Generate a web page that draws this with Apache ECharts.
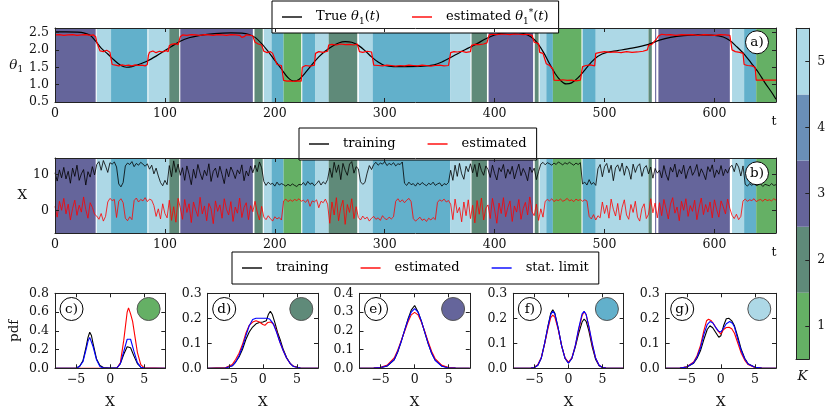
<!DOCTYPE html>
<html><head><meta charset="utf-8">
<script src="https://cdn.jsdelivr.net/npm/echarts/dist/echarts.min.js"></script>
<style>html,body{margin:0;padding:0;background:#fff}#c{width:831px;height:416px}</style>
</head><body><div id="c"></div>
<script>
const FONT = 'DejaVu Serif';
// ---- data ----
const tTicks = [0,100,200,300,400,500,600];
const thetaTicks = [0.5,1.0,1.5,2.0,2.5];
const xbTicks = [0,10];
const pdfXTicks = [-5,0,5];
const kLevels = [1,2,3,4,5];
// background regimes: [start t, end t, K]
const segments = [
 [0,37,3],[38,51,5],[51,84,4],[85,104,5],[104,113,2],[114,180,3],[181.5,189,2],[190,197,5],[197,208,4],[208,224,1],[225,237,4],[237,249,5],[249,275,2],[276.5,289,5],[289,359.5,4],[359.5,378,5],[379,393,2],[394.5,435,3],[436.5,440,2],[441,447,5],[447,453,4],[453,479,1],[480,492,4],[492,540,5],[540,543,2],[546,547,3],[549,614,3],[616,627,5],[627,638,4],[638,656,1]
];
const thetaTrue = [[0,2.52],[10,2.52],[20,2.51],[26,2.49],[32,2.42],[37,2.25],[42,2.05],[48,1.88],[54,1.70],[60,1.55],[65,1.50],[70,1.52],[76,1.58],[84,1.68],[92,1.82],[100,1.98],[106,2.10],[114,2.25],[122,2.35],[132,2.42],[145,2.47],[160,2.49],[170,2.48],[176,2.45],[182,2.36],[188,2.18],[194,1.95],[200,1.70],[206,1.45],[212,1.20],[217,1.10],[222,1.15],[228,1.35],[234,1.58],[240,1.80],[246,1.97],[252,2.10],[258,2.20],[264,2.24],[270,2.22],[276,2.13],[282,1.98],[288,1.80],[294,1.65],[300,1.55],[308,1.52],[320,1.52],[335,1.53],[345,1.57],[352,1.65],[360,1.78],[368,1.92],[376,2.05],[384,2.18],[392,2.32],[400,2.43],[408,2.49],[415,2.51],[422,2.50],[430,2.43],[436,2.30],[440,2.15],[445,1.90],[450,1.60],[455,1.32],[460,1.12],[465,1.02],[470,1.05],[476,1.20],[482,1.42],[488,1.65],[494,1.82],[502,1.93],[512,1.98],[525,2.05],[540,2.16],[550,2.28],[560,2.36],[572,2.41],[585,2.43],[600,2.42],[608,2.37],[614,2.27],[620,2.10],[627,1.88],[634,1.60],[640,1.35],[646,1.05],[652,0.78],[656,0.58]];
const thetaEst = [[0,2.43],[4,2.44],[8,2.42],[12,2.43],[16,2.44],[20,2.42],[24,2.43],[28,2.44],[32,2.42],[35,2.43],[37,2.38],[38,2.22],[40,2.05],[41,1.97],[44,1.95],[47,1.99],[50,1.93],[51,1.75],[52,1.58],[55,1.56],[58,1.54],[61,1.57],[64,1.55],[67,1.56],[70,1.54],[73,1.57],[76,1.55],[79,1.56],[82,1.54],[84,1.58],[85,1.85],[86,1.93],[89,1.97],[92,1.92],[95,1.96],[98,1.94],[101,1.98],[103,1.95],[104,2.12],[106,2.16],[109,2.18],[112,2.15],[114,2.38],[116,2.43],[120,2.42],[124,2.44],[128,2.43],[132,2.42],[136,2.44],[140,2.43],[144,2.42],[148,2.44],[152,2.43],[156,2.42],[160,2.44],[164,2.43],[168,2.42],[170,2.36],[172,2.38],[174,2.43],[178,2.42],[180,2.40],[182,2.22],[185,2.17],[188,2.14],[190,1.96],[193,1.92],[196,1.95],[198,1.9],[202,1.58],[206,1.55],[208,1.12],[211,1.10],[214,1.11],[217,1.09],[220,1.11],[224,1.10],[225,1.5],[228,1.55],[232,1.53],[236,1.56],[237,1.9],[240,1.95],[244,1.93],[248,1.96],[249,2.14],[252,2.16],[256,2.14],[260,2.17],[264,2.15],[268,2.16],[272,2.14],[275,2.17],[277,1.95],[280,1.93],[284,1.96],[288,1.94],[290,1.56],[294,1.55],[298,1.54],[302,1.56],[306,1.55],[310,1.53],[314,1.55],[318,1.54],[322,1.56],[326,1.55],[330,1.54],[334,1.56],[338,1.55],[342,1.53],[346,1.55],[350,1.56],[354,1.54],[358,1.55],[360,1.92],[363,1.95],[366,1.94],[370,1.96],[374,1.93],[378,1.95],[379,2.13],[382,2.16],[386,2.15],[390,2.17],[393,2.2],[395,2.43],[398,2.45],[402,2.44],[406,2.46],[410,2.45],[414,2.44],[418,2.46],[422,2.45],[426,2.44],[430,2.45],[434,2.42],[436,2.22],[440,2.18],[441,1.93],[444,1.9],[447,1.6],[450,1.55],[453,1.45],[454,1.13],[458,1.12],[462,1.14],[466,1.12],[470,1.13],[474,1.11],[478,1.13],[480,1.52],[483,1.55],[487,1.57],[491,1.54],[492,1.9],[496,1.93],[500,1.95],[505,1.93],[510,1.94],[515,1.92],[520,1.95],[525,1.93],[530,1.94],[535,1.96],[539,2.0],[540,2.13],[543,2.16],[547,2.3],[549,2.4],[552,2.45],[556,2.43],[560,2.44],[565,2.42],[570,2.44],[575,2.43],[580,2.44],[585,2.42],[590,2.44],[595,2.43],[600,2.42],[605,2.44],[610,2.43],[614,2.42],[616,2.0],[619,1.95],[623,1.93],[626,1.9],[627,1.58],[630,1.55],[634,1.54],[637,1.5],[638,1.13],[642,1.13],[646,1.13],[650,1.13],[656,1.13]];
// panel b, sampled every T_STEP time units from t=0
const T_STEP = 2;
const xTrain = [10.5,8.2,11.3,9.1,12.0,8.8,10.9,7.6,11.8,9.5,12.6,8.4,10.2,11.4,7.1,10.8,9.3,12.2,9.9,
12.8,13.6,11.2,13.9,12.4,10.6,13.3,
12.9,13.5,12.1,7.4,6.6,7.8,
12.4,13.2,12.8,13.6,12.2,13.1,12.6,13.4,12.9,12.3,13.0,
11.5,12.6,10.2,11.8,9.6,
7.8,6.9,8.4,7.2,
12.5,9.4,13.8,10.6,12.9,
9.8,11.9,8.4,12.4,10.1,7.2,11.5,9.0,12.8,10.4,8.6,11.2,9.7,13.0,8.1,10.9,11.8,9.2,12.3,10.0,7.5,11.6,9.4,12.1,10.7,8.9,11.3,10.2,12.7,8.3,11.0,9.6,12.4,10.5,
12.6,10.8,13.5,11.9,
8.1,7.0,7.9,7.3,
7.6,6.8,7.9,7.1,7.5,
7.2,6.8,7.3,6.9,7.4,7.0,6.7,7.3,7.1,
7.8,7.0,8.1,7.3,7.7,6.9,
7.5,8.3,7.1,8.0,7.4,8.6,
11.8,9.2,13.4,10.6,12.7,8.6,13.1,11.2,9.8,12.9,13.6,10.4,12.2,
11.6,8.0,7.3,7.8,10.4,12.5,11.4,
12.8,13.4,12.6,13.2,12.9,13.6,12.5,13.1,12.7,13.3,12.4,13.0,12.8,13.5,
7.6,7.0,7.9,7.2,7.5,6.8,7.7,7.1,7.8,7.3,6.9,7.6,7.2,7.9,7.0,7.4,7.7,6.8,7.5,7.2,7.8,
11.2,8.4,12.6,9.5,13.1,10.2,8.7,12.3,10.8,13.0,
10.5,12.8,9.4,13.2,11.1,9.8,12.4,
11.4,9.2,12.6,10.3,8.5,11.9,10.8,12.8,9.0,11.5,10.1,12.3,8.8,11.0,12.9,9.7,11.7,10.4,8.3,12.1,10.6,
11.8,8.6,10.9,
12.9,13.4,12.7,13.3,13.0,12.6,13.2,12.8,13.5,13.1,12.7,13.3,12.9,13.4,13.0,12.6,13.2,12.8,13.3,
7.4,7.9,7.1,8.6,7.3,7.8,7.0,
11.6,12.8,9.4,12.2,13.1,10.5,12.6,8.3,11.9,12.7,10.9,13.2,9.8,12.4,11.3,8.7,12.9,10.6,12.3,13.0,9.5,11.8,12.5,10.2,
12.1,9.0,11.7,10.4,
11.2,9.1,12.5,10.0,8.4,12.0,10.7,12.9,9.3,11.4,10.2,12.6,8.9,11.1,12.4,9.8,10.9,12.8,9.5,11.6,10.3,8.6,12.2,10.8,12.7,9.2,11.3,10.1,12.5,9.7,11.5,10.4,12.0,
12.6,10.8,13.2,12.1,9.6,12.4,
7.3,6.8,7.5,7.0,7.6,6.9,7.2,7.4,6.7,7.3,7.1,6.9,7.5,7.0,7.2];
const xEst = [1.2,-1.8,2.6,0.1,3.4,-0.9,1.8,-2.6,0.6,2.9,-1.3,1.5,-0.4,3.8,0.3,-2.1,2.2,0.9,-1.0,
-1.5,-2.4,-0.8,-2.9,-1.6,
2.4,3.4,2.8,
3.1,-1.9,2.6,3.3,2.2,
-2.1,-2.8,-1.7,-2.5,
2.8,3.5,2.4,3.1,2.7,3.6,2.5,3.2,2.9,
1.4,-1.6,0.5,-2.3,1.9,-0.8,-2.0,
2.9,-2.7,1.1,-3.2,3.4,
0.8,-2.4,3.1,-0.5,1.9,-3.3,2.4,0.2,-1.6,3.7,-0.9,1.3,-2.8,2.0,0.5,-3.6,2.7,-0.2,1.6,-2.1,3.3,0.4,-1.2,2.5,-3.0,1.0,-0.7,3.5,-1.9,0.9,2.2,-2.5,1.4,-0.3,
2.6,-0.4,-2.6,1.2,
-1.8,-2.5,-1.4,-2.2,-2.9,-1.7,-2.3,-1.9,-2.6,
2.7,3.2,2.5,3.0,2.6,3.1,2.8,3.3,2.6,
2.9,2.3,3.1,1.2,2.7,2.4,3.0,0.8,2.6,2.2,3.2,1.8,
-3.5,2.4,-1.2,3.6,-2.8,0.9,2.9,-3.8,1.7,-0.5,3.3,-2.2,1.1,
-1.9,-2.6,-1.5,-2.3,-1.8,-2.9,-2.1,-1.6,-2.4,-2.0,-2.7,-1.4,-2.2,-2.5,-1.8,-2.3,-1.7,
2.6,3.3,2.4,3.0,2.2,2.9,3.4,2.5,
-2.2,-2.9,-2.4,-1.8,-2.7,-2.3,-3.0,-2.1,-2.6,-1.9,-2.5,
2.3,3.0,2.6,3.2,2.4,2.8,
1.8,-2.5,3.2,-0.6,0.9,-3.1,2.4,-1.4,3.0,-2.2,
1.5,-3.4,2.8,-1.0,3.5,-2.6,0.7,
1.6,-2.2,3.4,0.2,-3.5,2.1,-0.8,3.6,-1.7,0.9,2.7,-3.0,1.3,-0.4,3.1,-2.4,0.6,2.3,-1.2,3.8,-0.3,
-1.4,1.8,-2.7,0.5,-1.8,
2.6,3.1,2.7,3.3,2.5,3.0,2.8,3.2,2.6,2.9,3.4,2.7,3.0,2.5,3.2,2.8,3.1,2.6,3.0,2.7,
-1.6,-2.3,-1.1,-2.6,-1.4,-2.0,
2.4,-0.8,1.5,-2.1,3.2,0.4,-1.5,2.0,-2.6,0.9,3.0,-1.2,-2.4,1.7,-0.5,2.6,-1.8,-2.9,0.6,1.9,-2.2,-1.0,
3.3,-0.6,2.1,-2.0,
2.2,-1.4,3.1,0.5,-2.3,1.8,3.6,-0.7,1.0,-2.8,2.6,0.1,3.3,-1.6,1.4,-0.2,2.9,-2.5,0.8,3.5,-1.1,1.7,-0.4,2.4,-2.0,3.0,0.3,-1.8,2.7,1.1,-0.9,3.2,0.6,
-1.3,-2.2,-1.0,-2.5,-1.6,
2.7,3.2,2.6,3.0,2.8,3.3,2.5,2.9,3.1,2.6,3.2,2.8,3.0,2.7,3.3,2.9];
// pdf panels c)..g): [X, pdf]
const pdfC_train = [[-8.1,0],[-5.5,0],[-5,0.004],[-4.5,0.02],[-4,0.08],[-3.5,0.24],[-3.25,0.33],[-3,0.385],[-2.75,0.35],[-2.5,0.26],[-2,0.1],[-1.5,0.03],[-1,0.008],[0,0.004],[1,0.006],[1.5,0.05],[2,0.15],[2.5,0.23],[2.75,0.245],[3,0.22],[3.5,0.13],[4,0.05],[4.5,0.012],[5,0.002],[8.1,0]];
const pdfC_est = [[-8.1,0],[1,0],[1.5,0.06],[2,0.3],[2.5,0.6],[2.7,0.645],[3,0.58],[3.3,0.5],[3.6,0.36],[4,0.17],[4.5,0.04],[5,0.005],[8.1,0]];
const pdfC_stat = [[-8.1,0],[-5,0.002],[-4.5,0.02],[-4,0.07],[-3.5,0.21],[-3.25,0.29],[-3,0.33],[-2.75,0.31],[-2.5,0.23],[-2,0.09],[-1.5,0.02],[-1,0.003],[1,0.003],[1.5,0.05],[2,0.18],[2.5,0.31],[2.75,0.33],[3,0.31],[3.5,0.18],[4,0.06],[4.5,0.012],[5,0.002],[8.1,0]];
const pdfD_train = [[-8.1,0],[-5.5,0.002],[-4.5,0.01],[-4,0.025],[-3.5,0.045],[-3,0.075],[-2.5,0.115],[-2,0.145],[-1.5,0.165],[-1,0.178],[-0.5,0.183],[0,0.185],[0.5,0.19],[0.8,0.215],[1.1,0.228],[1.4,0.215],[1.8,0.18],[2.2,0.14],[2.6,0.11],[3,0.075],[3.5,0.042],[4,0.02],[4.5,0.008],[5.5,0.001],[8.1,0]];
const pdfD_est = [[-8.1,0],[-5.5,0.002],[-4.5,0.015],[-4,0.035],[-3.5,0.06],[-3,0.095],[-2.5,0.14],[-2,0.172],[-1.5,0.185],[-1,0.19],[-0.5,0.185],[0,0.175],[0.3,0.172],[0.7,0.183],[1.2,0.185],[1.6,0.175],[2,0.15],[2.5,0.105],[3,0.07],[3.5,0.04],[4,0.02],[4.5,0.008],[5.5,0.001],[8.1,0]];
const pdfD_stat = [[-8.1,0],[-5.5,0.001],[-4.5,0.01],[-4,0.025],[-3.5,0.05],[-3,0.085],[-2.5,0.13],[-2,0.17],[-1.5,0.195],[-1,0.2],[-0.5,0.2],[0,0.2],[0.5,0.2],[1,0.197],[1.5,0.18],[2,0.145],[2.5,0.105],[3,0.07],[3.5,0.04],[4,0.02],[4.5,0.007],[5.5,0.001],[8.1,0]];
const pdfE_train = [[-8.1,0],[-6,0.001],[-5,0.003],[-4,0.013],[-3,0.045],[-2.5,0.085],[-2,0.14],[-1.5,0.2],[-1,0.26],[-0.5,0.31],[0,0.335],[0.5,0.3],[1,0.25],[1.5,0.19],[2,0.13],[2.5,0.08],[3,0.045],[4,0.012],[5,0.003],[6,0.001],[8.1,0]];
const pdfE_est = [[-8.1,0],[-6,0.001],[-5,0.005],[-4,0.018],[-3,0.055],[-2.5,0.095],[-2,0.145],[-1.5,0.195],[-1,0.245],[-0.5,0.285],[0,0.298],[0.5,0.285],[1,0.245],[1.5,0.195],[2,0.14],[2.5,0.09],[3,0.052],[4,0.016],[5,0.004],[6,0.001],[8.1,0]];
const pdfE_stat = [[-8.1,0],[-6,0.001],[-5,0.004],[-4,0.014],[-3,0.047],[-2.5,0.088],[-2,0.14],[-1.5,0.2],[-1,0.255],[-0.5,0.3],[0,0.318],[0.5,0.3],[1,0.25],[1.5,0.19],[2,0.13],[2.5,0.08],[3,0.043],[4,0.011],[5,0.002],[6,0.001],[8.1,0]];
const pdfF_train = [[-8.1,0],[-5.5,0.001],[-5,0.003],[-4.5,0.012],[-4,0.04],[-3.5,0.1],[-3,0.17],[-2.6,0.22],[-2.3,0.234],[-2,0.22],[-1.5,0.16],[-1,0.09],[-0.5,0.04],[0,0.022],[0.5,0.04],[1,0.085],[1.5,0.14],[2,0.185],[2.3,0.197],[2.6,0.188],[3,0.15],[3.5,0.085],[4,0.035],[4.5,0.01],[5,0.003],[5.5,0.001],[8.1,0]];
const pdfF_est = [[-8.1,0],[-5.5,0.001],[-5,0.004],[-4.5,0.014],[-4,0.042],[-3.5,0.098],[-3,0.16],[-2.6,0.203],[-2.3,0.213],[-2,0.205],[-1.5,0.155],[-1,0.09],[-0.5,0.042],[0,0.024],[0.5,0.042],[1,0.09],[1.5,0.155],[2,0.21],[2.3,0.227],[2.6,0.215],[3,0.165],[3.5,0.095],[4,0.04],[4.5,0.012],[5,0.003],[5.5,0.001],[8.1,0]];
const pdfF_stat = [[-8.1,0],[-5.5,0.001],[-5,0.003],[-4.5,0.012],[-4,0.04],[-3.5,0.1],[-3,0.168],[-2.6,0.215],[-2.3,0.228],[-2,0.218],[-1.5,0.16],[-1,0.09],[-0.5,0.04],[0,0.02],[0.5,0.04],[1,0.09],[1.5,0.16],[2,0.218],[2.3,0.228],[2.6,0.215],[3,0.168],[3.5,0.1],[4,0.04],[4.5,0.012],[5,0.003],[5.5,0.001],[8.1,0]];
const pdfG_train = [[-8.1,0],[-6,0.001],[-5,0.005],[-4,0.02],[-3.5,0.04],[-3,0.07],[-2.5,0.115],[-2,0.155],[-1.6,0.17],[-1.2,0.162],[-0.8,0.145],[-0.3,0.124],[0,0.13],[0.4,0.17],[0.8,0.198],[1.2,0.2],[1.6,0.19],[2,0.17],[2.5,0.125],[3,0.075],[3.5,0.04],[4,0.018],[5,0.004],[6,0.001],[8.1,0]];
const pdfG_est = [[-8.1,0],[-6,0.001],[-5,0.006],[-4,0.025],[-3.5,0.05],[-3,0.09],[-2.5,0.15],[-2.1,0.19],[-1.8,0.196],[-1.4,0.19],[-1,0.175],[-0.5,0.152],[0,0.137],[0.4,0.155],[0.8,0.163],[1.2,0.164],[1.6,0.158],[2,0.14],[2.5,0.1],[3,0.06],[3.5,0.033],[4,0.015],[5,0.003],[6,0.001],[8.1,0]];
const pdfG_stat = [[-8.1,0],[-6,0.001],[-5,0.005],[-4,0.022],[-3.5,0.045],[-3,0.08],[-2.5,0.135],[-2,0.175],[-1.6,0.187],[-1.2,0.182],[-0.8,0.165],[-0.3,0.148],[0,0.145],[0.4,0.16],[0.8,0.178],[1.3,0.187],[1.7,0.18],[2,0.165],[2.5,0.115],[3,0.07],[3.5,0.038],[4,0.017],[5,0.004],[6,0.001],[8.1,0]];
const pdfYMax = [0.8,0.3,0.4,0.3,0.3];
const pdfYTicks = [[0,0.2,0.4,0.6,0.8],[0,0.1,0.2,0.3],[0,0.1,0.2,0.3,0.4],[0,0.1,0.2,0.3],[0,0.1,0.2,0.3]];
const pdfLabels = ['c)','d)','e)','f)','g)'];
const pdfK = [1,2,3,4,5];

// ---- styling ----
const kColor = {1:'#65b065',2:'#5f8a79',3:'#65659b',4:'#62b0cb',5:'#add8e6'};
const cbarColor = {1:'#65b065',2:'#5f8a79',3:'#65649a',4:'#6a8fb8',5:'#add8e6'};
const AX = '#222';
const TXT = '#111';
const FS = 12.5;
const gA = {left:55, top:28, width:721, height:74};
const gB = {left:55, top:158, width:721, height:75};
const pdfLefts = [55, 207.7, 359.5, 513.3, 665.7];
const pdfW = 110.3, pdfTop = 293.3, pdfH = 75;
const gCB = {left:796, top:28.3, width:13.3, height:330.7};

const fmt1 = v => v.toFixed(1);
const fmtInt = v => String(v).replace('-', '\u2212');

function xAxes(grid, min, max, ticks, fmt, extra){
  const base = {type:'value', gridIndex:grid, min:min, max:max, z:10,
    axisLine:{show:true, onZero:false, lineStyle:{color:AX, width:1}},
    splitLine:{show:false}};
  return [
    Object.assign({}, base, {position:'bottom',
      axisTick:{show:true, inside:true, length:4, customValues:ticks, lineStyle:{color:AX}},
      axisLabel:{show:true, customValues:ticks, formatter:fmt, color:TXT, fontFamily:FONT, fontSize:FS, margin:5}}, extra||{}),
    Object.assign({}, base, {position:'top',
      axisTick:{show:true, inside:true, length:4, customValues:ticks, lineStyle:{color:AX}},
      axisLabel:{show:false}})
  ];
}
function yAxes(grid, min, max, ticks, fmt, extra){
  const base = {type:'value', gridIndex:grid, min:min, max:max, z:10,
    axisLine:{show:true, onZero:false, lineStyle:{color:AX, width:1}},
    splitLine:{show:false}};
  return [
    Object.assign({}, base, {position:'left',
      axisTick:{show:true, inside:true, length:4, customValues:ticks, lineStyle:{color:AX}},
      axisLabel:{show:true, customValues:ticks, formatter:fmt, color:TXT, fontFamily:FONT, fontSize:FS, margin:6}}, extra||{}),
    Object.assign({}, base, {position:'right',
      axisTick:{show:true, inside:true, length:4, customValues:ticks, lineStyle:{color:AX}},
      axisLabel:{show:false}})
  ];
}
const tName = {name:'t', nameLocation:'end', nameGap:-2,
  nameTextStyle:{fontFamily:FONT, fontSize:FS, color:TXT, align:'center', verticalAlign:'top', padding:[13,0,0,0]}};

const grids = [gA, gB].concat(pdfLefts.map(l => ({left:l, top:pdfTop, width:pdfW, height:pdfH}))).concat([gCB]);
let xAxis = [], yAxis = [];
xAxis = xAxis.concat(xAxes(0, 0, 656, tTicks, v => String(v), tName));
yAxis = yAxis.concat(yAxes(0, 0.5, 2.63, thetaTicks, fmt1, {name:'{i|θ}{s|1}', nameLocation:'middle', nameGap:28, nameRotate:0,
  nameTextStyle:{fontFamily:FONT, fontSize:FS+1, color:TXT, align:'right', lineHeight:18,
    rich:{i:{fontStyle:'italic', fontFamily:FONT, fontSize:FS+1, verticalAlign:'middle', lineHeight:18}, s:{fontFamily:FONT, fontSize:9, verticalAlign:'bottom', lineHeight:11}}}}));
xAxis = xAxis.concat(xAxes(1, 0, 656, tTicks, v => String(v), tName));
yAxis = yAxis.concat(yAxes(1, -6.2, 14.6, xbTicks, v => String(v), {name:'X', nameLocation:'middle', nameGap:28, nameRotate:0,
  nameTextStyle:{fontFamily:FONT, fontSize:FS+1, color:TXT, align:'right'}}));
for (let p = 0; p < 5; p++) {
  xAxis = xAxis.concat(xAxes(2+p, -8.1, 8.1, pdfXTicks, fmtInt, {name:'X', nameLocation:'middle', nameGap:27,
    nameTextStyle:{fontFamily:FONT, fontSize:FS+1, color:TXT}}));
  const ex = p === 0 ? {name:'pdf', nameLocation:'middle', nameGap:34, nameRotate:90,
    nameTextStyle:{fontFamily:FONT, fontSize:FS+1, color:TXT}} : {};
  yAxis = yAxis.concat(yAxes(2+p, 0, pdfYMax[p], pdfYTicks[p], fmt1, ex));
}
// colorbar axes
xAxis.push({type:'value', gridIndex:7, min:0, max:1, position:'bottom', z:10,
  axisLine:{show:true, onZero:false, lineStyle:{color:AX}}, axisTick:{show:false}, axisLabel:{show:false}, splitLine:{show:false},
  name:'K', nameLocation:'middle', nameGap:10, nameTextStyle:{fontFamily:FONT, fontSize:FS+1, fontStyle:'italic', color:TXT}});
xAxis.push({type:'value', gridIndex:7, min:0, max:1, position:'top', z:10,
  axisLine:{show:true, onZero:false, lineStyle:{color:AX}}, axisTick:{show:false}, axisLabel:{show:false}, splitLine:{show:false}});
yAxis.push({type:'value', gridIndex:7, min:0.5, max:5.5, position:'right', z:10,
  axisLine:{show:true, onZero:false, lineStyle:{color:AX}},
  axisTick:{show:true, inside:true, length:4, customValues:kLevels, lineStyle:{color:AX}},
  axisLabel:{show:true, customValues:kLevels, color:TXT, fontFamily:FONT, fontSize:FS, margin:8}, splitLine:{show:false}});
yAxis.push({type:'value', gridIndex:7, min:0.5, max:5.5, position:'left', z:10,
  axisLine:{show:true, onZero:false, lineStyle:{color:AX}}, axisTick:{show:false}, axisLabel:{show:false}, splitLine:{show:false}});

function segSeries(ax){
  return {type:'custom', xAxisIndex:ax, yAxisIndex:ax, z:1, silent:true, clip:true,
    data: segments, encode:{x:[0,1]},
    renderItem: function(params, api){
      const s = api.coord([api.value(0), 0]);
      const e = api.coord([api.value(1), 0]);
      const cs = params.coordSys;
      return {type:'rect', shape:{x:s[0], y:cs.y, width:e[0]-s[0], height:cs.height},
        style:{fill:kColor[api.value(2)]}};
    }};
}
const line = (name, data, ax, color, w, extra) => Object.assign({type:'line', name:name, data:data, xAxisIndex:ax, yAxisIndex:ax,
  symbol:'none', z:3, lineStyle:{color:color, width:w}, itemStyle:{color:color}}, extra||{});

const series = [];
series.push(segSeries(0));
series.push(line('True θ1(t)', thetaTrue, 0, '#000', 1.2, {smooth:0.3}));
series.push(line('estimated θ1*(t)', thetaEst, 0, '#ff0000', 1.2));
series.push(segSeries(2));
series.push(line('training', xTrain.map((v,i) => [i*T_STEP, v]), 2, '#000', 0.8));
series.push(line('estimated', xEst.map((v,i) => [i*T_STEP, v]), 2, '#ff0000', 0.8));
const pdfSets = [[pdfC_train,pdfC_est,pdfC_stat],[pdfD_train,pdfD_est,pdfD_stat],[pdfE_train,pdfE_est,pdfE_stat],[pdfF_train,pdfF_est,pdfF_stat],[pdfG_train,pdfG_est,pdfG_stat]];
pdfSets.forEach((set, p) => {
  const ax = 4 + 2*p;
  series.push(line('training', set[0], ax, '#000', 1.1));
  series.push(line('estimated', set[1], ax, '#ff0000', 1.1));
  series.push(line('stat. limit', set[2], ax, '#0000ff', 1.1));
});
series.push({type:'custom', xAxisIndex:14, yAxisIndex:14, z:1, silent:true,
  data:kLevels.map(k => [k]),
  renderItem: function(params, api){
    const k = api.value(0);
    const a = api.coord([0, k+0.5]), b = api.coord([1, k-0.5]);
    return {type:'rect', shape:{x:a[0], y:a[1], width:b[0]-a[0], height:b[1]-a[1]}, style:{fill:cbarColor[k]}};
  }});

// annotations
const graphic = [];
function labelCircle(cx, cy, txt){
  graphic.push({type:'circle', shape:{cx:cx, cy:cy, r:11.5}, style:{fill:'#fff', stroke:'#000', lineWidth:1}, z:20});
  graphic.push({type:'text', x:cx, y:cy, style:{text:txt, fontFamily:FONT, fontSize:FS+1, fill:'#000', align:'center', verticalAlign:'middle'}, z:21});
}
labelCircle(gA.left+gA.width-19, gA.top+14.3, 'a)');
labelCircle(gB.left+gB.width-19, gB.top+15.3, 'b)');
pdfLefts.forEach((l, p) => {
  labelCircle(l+16.5, pdfTop+15.7, pdfLabels[p]);
  graphic.push({type:'circle', shape:{cx:l+pdfW-16.7, cy:pdfTop+15.7, r:11.5}, style:{fill:kColor[pdfK[p]], stroke:'#555', lineWidth:1}, z:20});
});

const legRich = {
  i:{fontStyle:'italic', fontFamily:FONT, fontSize:FS+0.5, verticalAlign:'middle', lineHeight:18, color:'#000'},
  s:{fontFamily:FONT, fontSize:9, verticalAlign:'bottom', lineHeight:11, color:'#000'},
  u:{fontFamily:FONT, fontSize:9, verticalAlign:'top', lineHeight:10, color:'#000'}
};
const legNames = {'True θ1(t)':'True {i|θ}{s|1}({i|t})', 'estimated θ1*(t)':'estimated {i|θ}{s|1}{u|*}({i|t})'};
function legend(data, left, top, gap){
  return {data:data, left:left, top:top, orient:'horizontal', icon:'rect', itemWidth:20, itemHeight:1.4, itemGap:gap,
    borderColor:'#000', borderWidth:1, borderRadius:0, padding:[7,10,7,10], backgroundColor:'#fff',
    formatter: n => legNames[n] || n,
    textStyle:{fontFamily:FONT, fontSize:FS+0.5, color:'#000', lineHeight:18, padding:[0,0,0,9], rich:legRich}};
}

const chart = echarts.init(document.getElementById('c'), null, {renderer:'canvas'});
chart.setOption({
  animation:false,
  backgroundColor:'#fff',
  grid: grids,
  xAxis: xAxis,
  yAxis: yAxis,
  legend:[
    legend(['True θ1(t)','estimated θ1*(t)'], 272, 1, 32),
    legend(['training','estimated'], 299, 128, 32),
    legend(['training','estimated','stat. limit'], 232, 252, 32)
  ],
  graphic: graphic,
  series: series
});
</script></body></html>
